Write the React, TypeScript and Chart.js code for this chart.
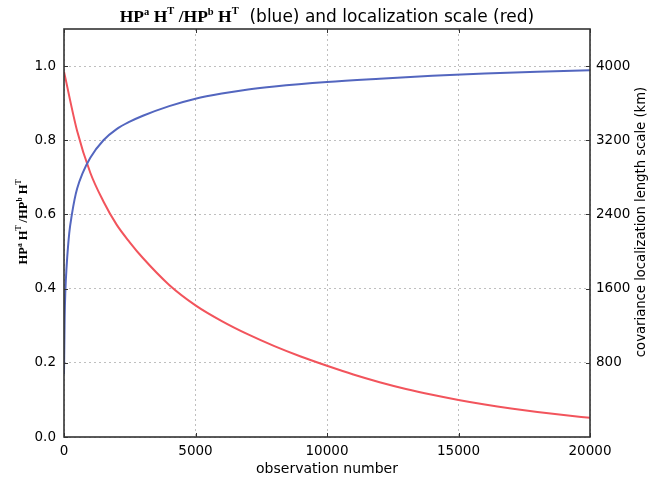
import React, { useEffect, useRef } from "react";
import { Chart, registerables } from "chart.js";

Chart.register(...registerables);

// Blue: HPaHT / HPbHT ratio (left axis)
const blueX = [0, 25, 50, 100, 200, 300, 400, 500, 700, 1000, 1500, 2000, 2500, 3000, 4000, 5000, 6000, 7000, 8000, 10000, 12000, 14000, 16000, 18000, 20000];
const blueY = [0.17, 0.32, 0.39, 0.46, 0.55, 0.6, 0.64, 0.67, 0.71, 0.753, 0.8, 0.83, 0.85, 0.866, 0.892, 0.912, 0.926, 0.937, 0.945, 0.957, 0.966, 0.974, 0.98, 0.985, 0.989];

// Red: covariance localization length scale in km (right axis)
const redX = [0, 500, 1000, 1500, 2000, 2500, 3000, 4000, 5000, 6000, 7000, 8000, 9000, 10000, 11000, 12000, 13000, 14000, 15000, 16000, 17000, 18000, 19000, 20000];
const redY = [3940, 3300, 2850, 2540, 2290, 2100, 1930, 1640, 1420, 1250, 1106, 980, 868, 768, 674, 591, 518, 455, 399, 350, 307, 269, 236, 207];

const xTicks = [0, 5000, 10000, 15000, 20000];
const leftTicks = [0, 0.2, 0.4, 0.6, 0.8, 1.0];
const rightTicks = [800, 1600, 2400, 3200, 4000];

const titleRest = "  (blue) and localization scale (red)";
const xTitle = "observation number";
const rightTitle = "covariance localization length scale (km)";

type Seg = { t: string; f: string; dy?: number };

function drawRich(ctx: CanvasRenderingContext2D, segs: Seg[], x: number, y: number, rot: number) {
  ctx.save();
  ctx.translate(x, y);
  ctx.rotate(rot);
  let total = 0;
  for (const s of segs) {
    ctx.font = s.f;
    total += ctx.measureText(s.t).width;
  }
  let cx = -total / 2;
  ctx.textBaseline = "alphabetic";
  ctx.textAlign = "left";
  ctx.fillStyle = "#000";
  for (const s of segs) {
    ctx.font = s.f;
    ctx.fillText(s.t, cx, s.dy || 0);
    cx += ctx.measureText(s.t).width;
  }
  ctx.restore();
}

function mathSegs(big: number, small: number): Seg[] {
  const M = `bold ${big}px 'Liberation Serif'`;
  const S = `bold ${small}px 'Liberation Serif'`;
  const up = -Math.round(big * 0.4);
  return [
    { t: "HP", f: M },
    { t: "a", f: S, dy: up },
    { t: " H", f: M },
    { t: "T", f: S, dy: up - 1 },
    { t: " /", f: M },
    { t: "HP", f: M },
    { t: "b", f: S, dy: up },
    { t: " H", f: M },
    { t: "T", f: S, dy: up - 1 },
  ];
}

const decorPlugin = {
  id: "decor",
  afterDraw(chart: any) {
    const ctx: CanvasRenderingContext2D = chart.ctx;
    const { left, right, top, bottom } = chart.chartArea;
    const xs = chart.scales.x;
    const yl = chart.scales.y;
    const yr = chart.scales.y1;

    // inside tick marks
    ctx.save();
    ctx.strokeStyle = "#333";
    ctx.lineWidth = 1;
    ctx.beginPath();
    for (const v of leftTicks) {
      const p = Math.round(yl.getPixelForValue(v)) + 0.5;
      ctx.moveTo(left, p);
      ctx.lineTo(left + 4, p);
    }
    for (const v of rightTicks) {
      const p = Math.round(yr.getPixelForValue(v)) + 0.5;
      ctx.moveTo(right, p);
      ctx.lineTo(right - 4, p);
    }
    for (const v of xTicks) {
      const p = Math.round(xs.getPixelForValue(v)) + 0.5;
      ctx.moveTo(p, bottom);
      ctx.lineTo(p, bottom - 4);
      ctx.moveTo(p, top);
      ctx.lineTo(p, top + 4);
    }
    ctx.stroke();

    // frame
    ctx.strokeStyle = "#333";
    ctx.lineWidth = 1.6;
    ctx.strokeRect(left, top, right - left, bottom - top);
    ctx.restore();

    // title
    const tsegs = mathSegs(17.5, 10.5);
    tsegs.push({ t: titleRest, f: "17px 'DejaVu Sans'" });
    drawRich(ctx, tsegs, (left + right) / 2, 22, 0);

    // left axis title
    drawRich(ctx, mathSegs(12.5, 7.5), 27, 222, -Math.PI / 2);

    // right axis title
    drawRich(ctx, [{ t: rightTitle, f: "13.2px 'DejaVu Sans'" }], 645, 222, -Math.PI / 2);

    // x axis title
    drawRich(ctx, [{ t: xTitle, f: "14px 'DejaVu Sans'" }], (left + right) / 2, 473, 0);
  },
};

export default function App() {
  const ref = useRef<HTMLCanvasElement>(null);

  useEffect(() => {
    if (!ref.current) return;
    const tickFont = { family: "'DejaVu Sans'", size: 13.5 };
    const chart = new Chart(ref.current, {
      type: "line",
      data: {
        datasets: [
          {
            label: "ratio",
            data: blueX.map((x, i) => ({ x, y: blueY[i] })),
            borderColor: "#5366bf",
            borderWidth: 2,
            pointRadius: 0,
            cubicInterpolationMode: "monotone",
            yAxisID: "y",
          },
          {
            label: "localization scale",
            data: redX.map((x, i) => ({ x, y: redY[i] })),
            borderColor: "#f2545c",
            borderWidth: 2,
            pointRadius: 0,
            cubicInterpolationMode: "monotone",
            yAxisID: "y1",
          },
        ],
      },
      options: {
        animation: false,
        responsive: false,
        layout: { padding: { top: 29, left: 0, right: 0, bottom: 0 } },
        plugins: { legend: { display: false }, tooltip: { enabled: false }, title: { display: false } },
        scales: {
          x: {
            type: "linear",
            min: 0,
            max: 20000,
            afterBuildTicks: (s: any) => {
              s.ticks = xTicks.map((v) => ({ value: v }));
            },
            afterFit: (s: any) => {
              s.height = 44;
            },
            ticks: {
              font: tickFont,
              color: "#000",
              padding: 6,
              maxRotation: 0,
              autoSkip: false,
              callback: (v: any) => String(v),
            },
            grid: { color: "rgba(0,0,0,0.25)", lineWidth: 1, drawTicks: false },
            border: { display: false, dash: [2, 3] },
          },
          y: {
            position: "left",
            min: 0,
            max: 1.1,
            afterBuildTicks: (s: any) => {
              s.ticks = leftTicks.map((v) => ({ value: v }));
            },
            afterFit: (s: any) => {
              s.width = 64;
            },
            ticks: {
              font: tickFont,
              color: "#000",
              padding: 8,
              autoSkip: false,
              callback: (v: any) => Number(v).toFixed(1),
            },
            grid: { color: "rgba(0,0,0,0.25)", lineWidth: 1, drawTicks: false },
            border: { display: false, dash: [2, 3] },
          },
          y1: {
            position: "right",
            min: 0,
            max: 4400,
            afterBuildTicks: (s: any) => {
              s.ticks = rightTicks.map((v) => ({ value: v }));
            },
            afterFit: (s: any) => {
              s.width = 61;
            },
            ticks: {
              font: tickFont,
              color: "#000",
              padding: 6,
              autoSkip: false,
              callback: (v: any) => String(v),
            },
            grid: { drawOnChartArea: false, drawTicks: false },
            border: { display: false },
          },
        },
      },
      plugins: [decorPlugin],
    } as any);
    return () => chart.destroy();
  }, []);

  return (
    <div style={{ position: "absolute", left: 0, top: 0, width: 651, height: 481, background: "#fff" }}>
      <canvas ref={ref} width={651} height={481} style={{ width: 651, height: 481 }} />
    </div>
  );
}
